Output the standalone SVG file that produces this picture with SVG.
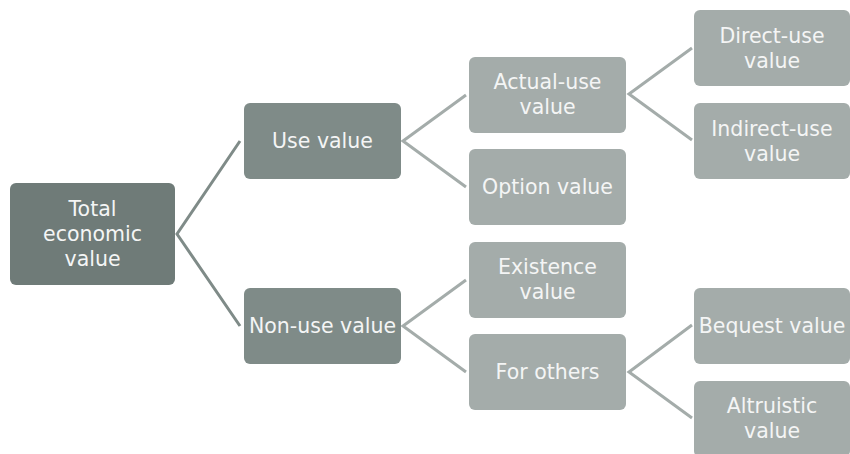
<svg xmlns="http://www.w3.org/2000/svg" width="850" height="454" viewBox="0 0 850 454">
<style>
text{font-family:"DejaVu Sans",sans-serif;font-size:20.5px;fill:#f4f5f5;text-anchor:middle}
.l0{fill:#6f7b78}
.l1{fill:#7f8b88}
.l2{fill:#a4acaa}
.c0{stroke:#7f8b88;stroke-width:3;fill:none}
.c1{stroke:#a4acaa;stroke-width:3;fill:none}
</style>
<rect width="850" height="454" fill="#ffffff"/>
<g id="connectors">
<polyline class="c0" points="240,141 177,234 240,326"/>
<polyline class="c1" points="466,95 403,141 466,187"/>
<polyline class="c1" points="466,280 403,326 466,372"/>
<polyline class="c1" points="692,48 629,94 692,140"/>
<polyline class="c1" points="692,325 629,372 692,418"/>
</g>
<g id="total"><rect class="l0" x="10" y="183" width="165" height="102" rx="6"/><text x="92.5" y="215.5">Total</text><text x="92.5" y="240.5">economic</text><text x="92.5" y="265.5">value</text></g>
<g id="use"><rect class="l1" x="244" y="103" width="157" height="76" rx="6"/><text x="322.5" y="148">Use value</text></g>
<g id="nonuse"><rect class="l1" x="244" y="288" width="157" height="76" rx="6"/><text x="322.5" y="333">Non-use value</text></g>
<g id="actual"><rect class="l2" x="469" y="57" width="157" height="76" rx="6"/><text x="547.5" y="89">Actual-use</text><text x="547.5" y="114">value</text></g>
<g id="option"><rect class="l2" x="469" y="149" width="157" height="76" rx="6"/><text x="547.5" y="194">Option value</text></g>
<g id="existence"><rect class="l2" x="469" y="242" width="157" height="76" rx="6"/><text x="547.5" y="274">Existence</text><text x="547.5" y="299">value</text></g>
<g id="others"><rect class="l2" x="469" y="334" width="157" height="76" rx="6"/><text x="547.5" y="379">For others</text></g>
<g id="direct"><rect class="l2" x="694" y="10" width="156" height="76" rx="6"/><text x="772" y="42.5">Direct-use</text><text x="772" y="67.5">value</text></g>
<g id="indirect"><rect class="l2" x="694" y="103" width="156" height="76" rx="6"/><text x="772" y="135.5">Indirect-use</text><text x="772" y="160.5">value</text></g>
<g id="bequest"><rect class="l2" x="694" y="288" width="156" height="76" rx="6"/><text x="772" y="333">Bequest value</text></g>
<g id="altruistic"><rect class="l2" x="694" y="381" width="156" height="76" rx="6"/><text x="772" y="413">Altruistic</text><text x="772" y="438">value</text></g>
</svg>
